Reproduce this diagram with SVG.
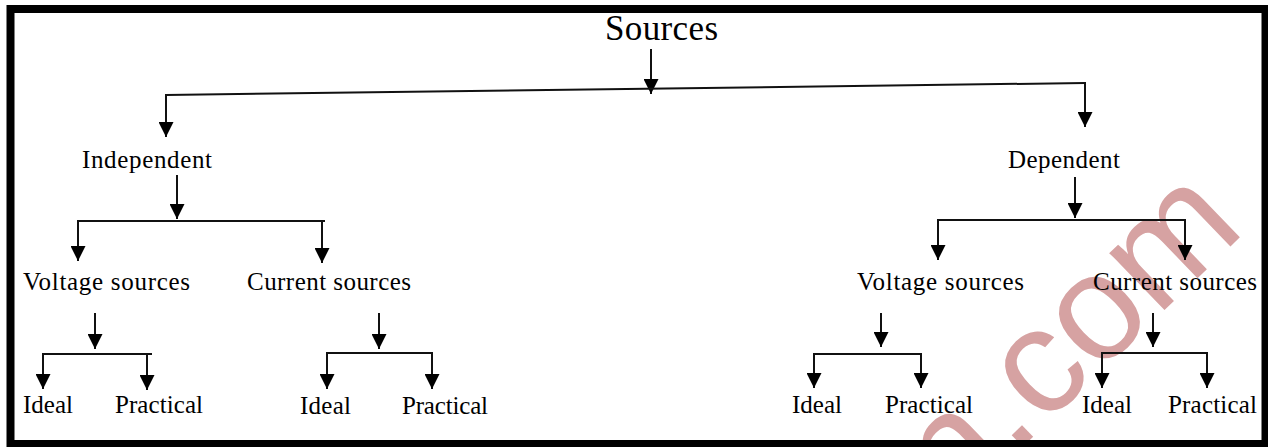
<svg xmlns="http://www.w3.org/2000/svg" width="1268" height="447" viewBox="0 0 1268 447">
  <style>
    .lbl { font-family: "Liberation Serif", "Times New Roman", serif; font-size: 25px; fill: #000; }
    .title { font-family: "Liberation Serif", "Times New Roman", serif; font-size: 35px; fill: #000; }
    .wire { stroke: #111; stroke-width: 2; fill: none; }
    .arr { stroke: #111; stroke-width: 2; fill: none; marker-end: url(#head); }
    .wm { font-family: "Liberation Sans", Arial, sans-serif; font-size: 150px; fill: #d6a2a2; }
  </style>
  <defs>
    <marker id="head" markerUnits="userSpaceOnUse" viewBox="0 0 15 15" refX="15" refY="7.5" markerWidth="15" markerHeight="15" orient="auto">
      <path d="M0,0 L15,7.5 L0,15 z" fill="#000"/>
    </marker>
  </defs>
  <rect x="0" y="0" width="1268" height="447" fill="#fff"/>

  <!-- watermark -->
  <g id="watermark" transform="translate(1100,318) rotate(-44)">
    <text class="wm" x="-242" y="39">n.com</text>
  </g>

  <rect id="frame" x="10.5" y="9" width="1255" height="435" fill="none" stroke="#000" stroke-width="8"/>

  <g id="connectors">
    <line class="arr" x1="651" y1="49" x2="651" y2="94"/>
    <line class="wire" x1="166" y1="95" x2="1085" y2="83"/>
    <line class="arr" x1="166" y1="94" x2="166" y2="137"/>
    <line class="arr" x1="1085" y1="82" x2="1085" y2="127"/>

    <line class="arr" x1="177" y1="175" x2="177" y2="219"/>
    <line class="wire" x1="77" y1="221" x2="325" y2="221"/>
    <line class="arr" x1="78" y1="220" x2="78" y2="261"/>
    <line class="arr" x1="322" y1="220" x2="322" y2="263"/>

    <line class="arr" x1="1075" y1="177" x2="1075" y2="218"/>
    <line class="wire" x1="938" y1="220" x2="1186" y2="220"/>
    <line class="arr" x1="938" y1="219" x2="938" y2="260"/>
    <line class="arr" x1="1185" y1="219" x2="1185" y2="260"/>

    <line class="arr" x1="95" y1="313" x2="95" y2="349"/>
    <line class="wire" x1="43" y1="354" x2="152" y2="354"/>
    <line class="arr" x1="43" y1="353" x2="43" y2="389"/>
    <line class="arr" x1="147" y1="353" x2="147" y2="390"/>

    <line class="arr" x1="379" y1="313" x2="379" y2="349"/>
    <line class="wire" x1="327" y1="353" x2="433" y2="353"/>
    <line class="arr" x1="327" y1="352" x2="327" y2="389"/>
    <line class="arr" x1="432" y1="352" x2="432" y2="389"/>

    <line class="arr" x1="881" y1="313" x2="881" y2="347"/>
    <line class="wire" x1="814" y1="354" x2="922" y2="354"/>
    <line class="arr" x1="814" y1="353" x2="814" y2="388"/>
    <line class="arr" x1="921" y1="353" x2="921" y2="388"/>

    <line class="arr" x1="1153" y1="313" x2="1153" y2="347"/>
    <line class="wire" x1="1102" y1="353" x2="1207" y2="353"/>
    <line class="arr" x1="1102" y1="352" x2="1102" y2="388"/>
    <line class="arr" x1="1207" y1="352" x2="1207" y2="388"/>
  </g>

  <g id="n-sources"><text class="title" x="605" y="40" textLength="113" lengthAdjust="spacing">Sources</text></g>
  <g id="n-independent"><text class="lbl" x="82" y="168" textLength="130" lengthAdjust="spacing">Independent</text></g>
  <g id="n-dependent"><text class="lbl" x="1008" y="168" textLength="112" lengthAdjust="spacing">Dependent</text></g>

  <g id="n-ind-voltage"><text class="lbl" x="23" y="290" textLength="167" lengthAdjust="spacing">Voltage sources</text></g>
  <g id="n-ind-current"><text class="lbl" x="247" y="290" textLength="164" lengthAdjust="spacing">Current sources</text></g>
  <g id="n-dep-voltage"><text class="lbl" x="857" y="290" textLength="167" lengthAdjust="spacing">Voltage sources</text></g>
  <g id="n-dep-current"><text class="lbl" x="1093" y="290" textLength="164" lengthAdjust="spacing">Current sources</text></g>

  <g id="n-iv-ideal"><text class="lbl" x="23" y="413" textLength="50" lengthAdjust="spacing">Ideal</text></g>
  <g id="n-iv-practical"><text class="lbl" x="115" y="413" textLength="88" lengthAdjust="spacing">Practical</text></g>
  <g id="n-ic-ideal"><text class="lbl" x="300" y="414" textLength="51" lengthAdjust="spacing">Ideal</text></g>
  <g id="n-ic-practical"><text class="lbl" x="402" y="414" textLength="86" lengthAdjust="spacing">Practical</text></g>
  <g id="n-dv-ideal"><text class="lbl" x="792" y="413" textLength="50" lengthAdjust="spacing">Ideal</text></g>
  <g id="n-dv-practical"><text class="lbl" x="885" y="413" textLength="88" lengthAdjust="spacing">Practical</text></g>
  <g id="n-dc-ideal"><text class="lbl" x="1082" y="413" textLength="50" lengthAdjust="spacing">Ideal</text></g>
  <g id="n-dc-practical"><text class="lbl" x="1168" y="413" textLength="89" lengthAdjust="spacing">Practical</text></g>
</svg>
